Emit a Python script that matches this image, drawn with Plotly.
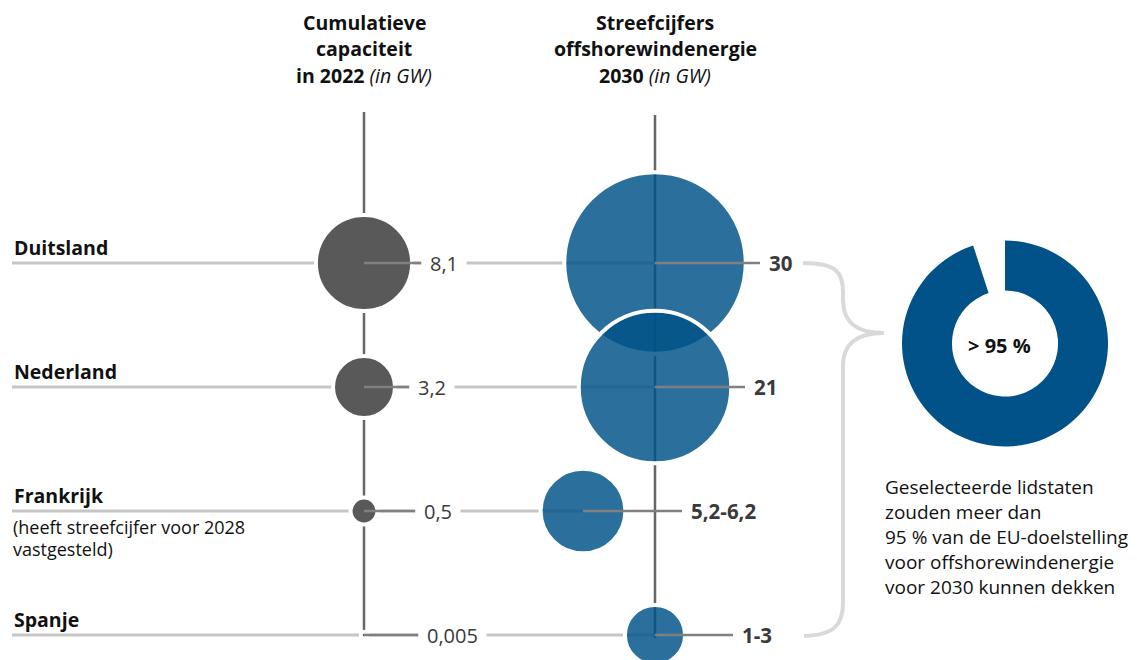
import numpy as np
import plotly.graph_objects as go

# ---------------- data ----------------
countries = ["Duitsland", "Nederland", "Frankrijk", "Spanje"]
country_notes = [[], [], ["(heeft streefcijfer voor 2028", "vastgesteld)"], []]
capacity_2022 = [8.1, 3.2, 0.5, 0.005]
capacity_2022_labels = ["8,1", "3,2", "0,5", "0,005"]
target_2030_low = [30, 21, 5.2, 1]
target_2030_high = [30, 21, 6.2, 3]
target_2030_labels = ["30", "21", "5,2-6,2", "1-3"]
eu_share_pct = 95
eu_share_label = "> 95 %"
header_left = ["<b>Cumulatieve</b>", "<b>capaciteit</b>", "<b>in 2022</b> <i>(in GW)</i>"]
header_right = ["<b>Streefcijfers</b>", "<b>offshorewindenergie</b>", "<b>2030</b> <i>(in GW)</i>"]
note_lines = ["Geselecteerde lidstaten", "zouden meer dan", "95 % van de EU-doelstelling",
              "voor offshorewindenergie", "voor 2030 kunnen dekken"]

# ---------------- layout / style constants ----------------
W, H = 1137, 660
ROW_Y0, ROW_STEP = 263, 124
LEFT_X, RIGHT_X = 364, 655
RIGHT_SHIFT = [0, 0, -72, 0]          # Frankrijk bubble is set aside
K = 16.2                               # px radius per sqrt(GW)
OUTLINE = 4
LEFT_LEADER = [57, 45, 51, 54]
RIGHT_LEADER = [105, 90, 99, 78]
FONT = "Open Sans"
DARK_GREY = "#595959"
BLUE = "0,82,136"
TXT = "#111111"
VAL_TXT = "#3a3a3a"

n = len(countries)
row_y = [ROW_Y0 + i * ROW_STEP for i in range(n)]
r_left = [K * np.sqrt(v) for v in capacity_2022]
r_right = [K * np.sqrt(v) for v in target_2030_high]
right_cx = [RIGHT_X + s for s in RIGHT_SHIFT]

fig = go.Figure()
shapes = []
annotations = []

# vertical axis lines (below)
shapes.append(dict(type="line", xref="x", yref="y", x0=LEFT_X, x1=LEFT_X, y0=112, y1=row_y[-1],
                   line=dict(color="#666666", width=2.5), layer="below"))
shapes.append(dict(type="line", xref="x", yref="y", x0=RIGHT_X, x1=RIGHT_X, y0=115, y1=row_y[-1] + 3,
                   line=dict(color="#666666", width=2.5), layer="below"))

# light grey row lines (below)
for i in range(n):
    shapes.append(dict(type="line", xref="x", yref="y", x0=12, x1=right_cx[i], y0=row_y[i], y1=row_y[i],
                       line=dict(color="#c6c6c6", width=3), layer="below"))

# left bubbles
fig.add_trace(go.Scatter(
    x=[LEFT_X] * n, y=row_y, mode="markers", hoverinfo="skip", cliponaxis=False,
    marker=dict(size=[max(2 * r, 2.5) + OUTLINE for r in r_left], color=DARK_GREY, opacity=1,
                line=dict(color="white", width=OUTLINE)),
    showlegend=False))

# right bubbles
fig.add_trace(go.Scatter(
    x=right_cx, y=row_y, mode="markers", hoverinfo="skip", cliponaxis=True,
    marker=dict(size=[2 * r + OUTLINE for r in r_right], color=f"rgba({BLUE},0.83)", opacity=1,
                line=dict(color="white", width=OUTLINE)),
    showlegend=False))

# leader segments (above) and value labels
for i in range(n):
    lx_end = LEFT_X + LEFT_LEADER[i]
    shapes.append(dict(type="line", xref="x", yref="y", x0=LEFT_X, x1=lx_end, y0=row_y[i], y1=row_y[i],
                       line=dict(color="#808080", width=2.5)))
    annotations.append(dict(x=lx_end, y=row_y[i], xref="x", yref="y", xanchor="left", yanchor="middle",
                            text=capacity_2022_labels[i], showarrow=False, bgcolor="white", borderpad=8,
                            font=dict(family=FONT, size=20, color=VAL_TXT)))
    rx_end = right_cx[i] + RIGHT_LEADER[i]
    shapes.append(dict(type="line", xref="x", yref="y", x0=right_cx[i], x1=rx_end, y0=row_y[i], y1=row_y[i],
                       line=dict(color="#808080", width=2.5)))
    annotations.append(dict(x=rx_end + 7, y=row_y[i], xref="x", yref="y", xanchor="left", yanchor="middle",
                            text=f"<b>{target_2030_labels[i]}</b>", showarrow=False,
                            font=dict(family=FONT, size=20.5, color=VAL_TXT)))
    # country names
    annotations.append(dict(x=12, y=row_y[i] - 16, xref="x", yref="y", xanchor="left", yanchor="middle",
                            text=f"<b>{countries[i]}</b>", showarrow=False,
                            font=dict(family=FONT, size=19.5, color=TXT)))
    for j, line in enumerate(country_notes[i]):
        annotations.append(dict(x=11, y=row_y[i] + 16 + 22 * j, xref="x", yref="y", xanchor="left",
                                yanchor="middle", text=line, showarrow=False,
                                font=dict(family=FONT, size=18, color=TXT)))

# headers
for j, (hl, hr) in enumerate(zip(header_left, header_right)):
    y = 22 + 26.5 * j
    annotations.append(dict(x=LEFT_X, y=y, xref="x", yref="y", xanchor="center", yanchor="middle",
                            text=hl, showarrow=False, font=dict(family=FONT, size=19.5, color=TXT)))
    annotations.append(dict(x=RIGHT_X, y=y, xref="x", yref="y", xanchor="center", yanchor="middle",
                            text=hr, showarrow=False, font=dict(family=FONT, size=19.5, color=TXT)))

# curly brace
brace = ("M 803 263 C 836 263 843 272 843 292 L 843 300 C 843 322 856 333 884 333 "
         "C 856 333 843 344 843 366 L 843 603 C 843 625 834 635 804 636")
shapes.append(dict(type="path", xref="x", yref="y", path=brace,
                   line=dict(color="#d9d9d9", width=4)))

# donut
fig.add_trace(go.Pie(
    values=[eu_share_pct, 100 - eu_share_pct], sort=False, direction="clockwise", rotation=0,
    hole=0.515, textinfo="none", hoverinfo="skip", showlegend=False,
    marker=dict(colors=[f"rgb({BLUE})", "rgba(0,0,0,0)"], line=dict(width=0)),
    domain=dict(x=[902 / W, 1108 / W], y=[1 - 447 / H, 1 - 240 / H])))
annotations.append(dict(x=999, y=345, xref="x", yref="y", xanchor="center", yanchor="middle",
                        text=f"<b>{eu_share_label}</b>", showarrow=False,
                        font=dict(family=FONT, size=20, color=TXT)))

for j, line in enumerate(note_lines):
    annotations.append(dict(x=883, y=487 + 25 * j, xref="x", yref="y", xanchor="left", yanchor="middle",
                            text=line, showarrow=False, font=dict(family=FONT, size=19, color=TXT)))

fig.update_layout(
    width=W, height=H, margin=dict(l=0, r=0, t=0, b=0),
    paper_bgcolor="white", plot_bgcolor="white",
    xaxis=dict(range=[0, W], visible=False, fixedrange=True),
    yaxis=dict(range=[H, 0], visible=False, fixedrange=True),
    shapes=shapes, annotations=annotations,
)

fig.write_html("out.html")
